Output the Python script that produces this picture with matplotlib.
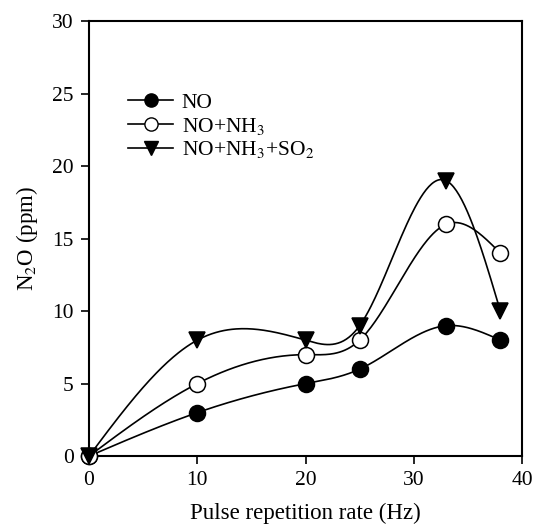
import matplotlib
matplotlib.use('Agg')
import matplotlib.pyplot as plt
import numpy as np

plt.rcParams['font.family'] = 'Liberation Serif'
plt.rcParams['mathtext.fontset'] = 'stix'

rate = [0, 10, 20, 25, 33, 38]
no = [0, 3, 5, 6, 9, 8]
no_nh3 = [0, 5, 7, 8, 16, 14]
no_nh3_so2 = [0, 8, 8, 9, 19, 10]


def natural_spline(x, y, n=300):
    # natural cubic spline, just for drawing the smooth line
    x = np.asarray(x, float)
    y = np.asarray(y, float)
    k = len(x)
    h = np.diff(x)
    A = np.zeros((k, k))
    b = np.zeros(k)
    A[0, 0] = 1
    A[-1, -1] = 1
    for i in range(1, k - 1):
        A[i, i - 1] = h[i - 1]
        A[i, i] = 2 * (h[i - 1] + h[i])
        A[i, i + 1] = h[i]
        b[i] = 3 * ((y[i + 1] - y[i]) / h[i] - (y[i] - y[i - 1]) / h[i - 1])
    c = np.linalg.solve(A, b)
    xs = np.linspace(x[0], x[-1], n)
    idx = np.clip(np.searchsorted(x, xs) - 1, 0, k - 2)
    dx = xs - x[idx]
    hi = h[idx]
    bi = (y[idx + 1] - y[idx]) / hi - hi * (2 * c[idx] + c[idx + 1]) / 3
    di = (c[idx + 1] - c[idx]) / (3 * hi)
    ys = y[idx] + bi * dx + c[idx] * dx ** 2 + di * dx ** 3
    return xs, ys


fig = plt.figure(figsize=(5.36, 5.31), dpi=100)
ax = fig.add_axes([0.166, 0.141, 0.808, 0.819])

series = [
    (no, 'NO', 'o', 'black', 11.5),
    (no_nh3, 'NO+NH$_3$', 'o', 'white', 11.5),
    (no_nh3_so2, 'NO+NH$_3$+SO$_2$', 'v', 'black', 11.5),
]
for ys, label, m, fc, ms in series:
    sx, sy = natural_spline(rate, ys)
    ax.plot(sx, sy, color='black', lw=1.2, zorder=2)
    ax.plot(rate, ys, linestyle='none', marker=m, ms=ms, mfc=fc, mec='black',
            mew=1.1, zorder=3, clip_on=False)
    ax.plot([], [], color='black', lw=1.2, marker=m, ms=9.5, mfc=fc,
            mec='black', label=label)

ax.set_xlim(0, 40)
ax.set_ylim(0, 30)
ax.set_xticks([0, 10, 20, 30, 40])
ax.set_yticks([0, 5, 10, 15, 20, 25, 30])
ax.tick_params(direction='out', length=6, labelsize=15.5, width=1.2, pad=5)
for s in ax.spines.values():
    s.set_linewidth(1.5)
ax.set_xlabel('Pulse repetition rate (Hz)', fontsize=16.5, labelpad=9)
ax.set_ylabel('N$_2$O (ppm)', fontsize=16.5, labelpad=9)

ax.legend(loc='upper left', bbox_to_anchor=(0.07, 0.855), frameon=False,
          fontsize=15.5, handlelength=2.1, labelspacing=0.12, handletextpad=0.4,
          borderaxespad=0)

fig.savefig('out.png', dpi=100)
